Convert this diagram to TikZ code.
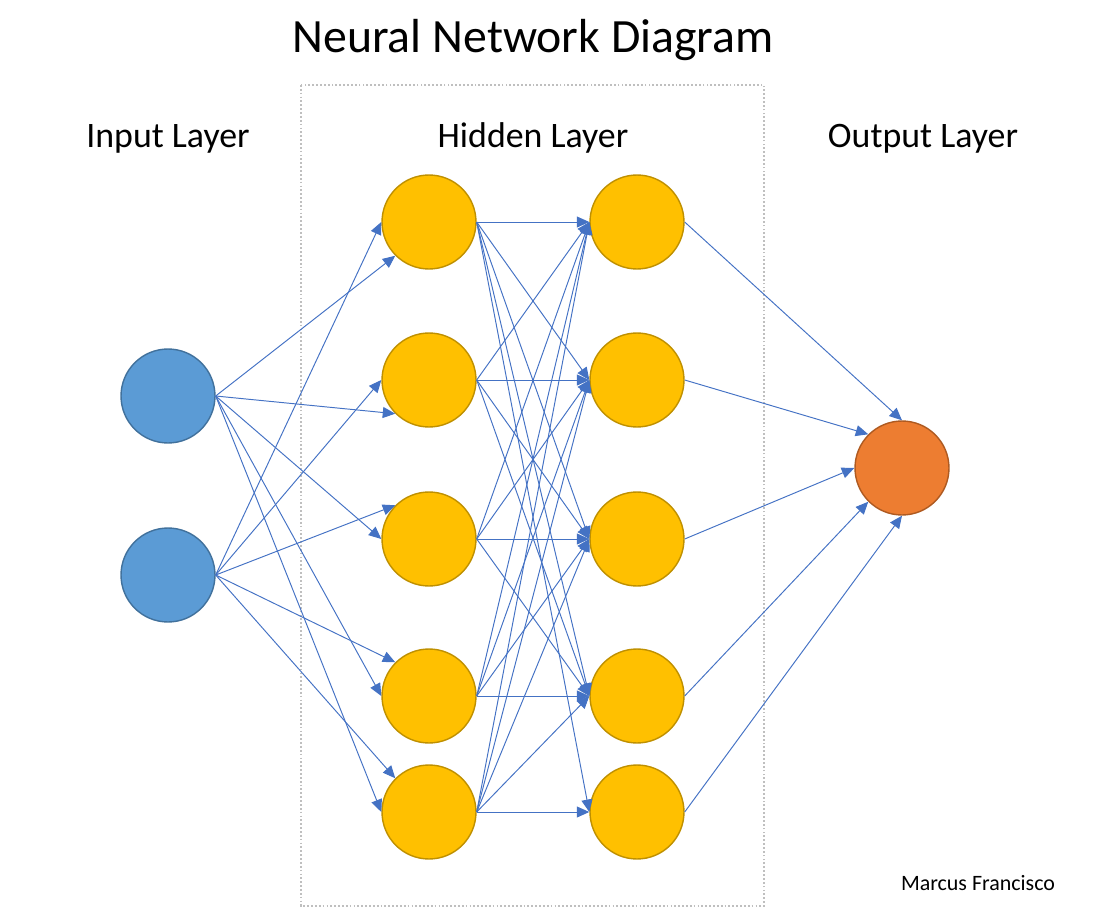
\documentclass[tikz,border=0pt]{standalone}
\usepackage{fontspec}
\setmainfont{Carlito}
\usetikzlibrary{arrows.meta}
\definecolor{inblue}{HTML}{5B9BD5}
\definecolor{inblueline}{HTML}{41719C}
\definecolor{hidyellow}{HTML}{FFC000}
\definecolor{hidyellowline}{HTML}{BF9000}
\definecolor{outorange}{HTML}{ED7D31}
\definecolor{outorangeline}{HTML}{AE5A21}
\definecolor{wireblue}{HTML}{4472C4}
\definecolor{boxgray}{HTML}{BFBFBF}
\tikzset{
	neuron/.style={circle, minimum size=1.88cm, inner sep=0pt, line width=0.8pt},
	innode/.style={neuron, fill=inblue, draw=inblueline},
	hidnode/.style={neuron, fill=hidyellow, draw=hidyellowline},
	outnode/.style={neuron, fill=outorange, draw=outorangeline},
	wire/.style={draw=wireblue, line width=0.55pt, -{Triangle[length=0.25cm,width=0.22cm]}},
	layertitle/.style={anchor=base, inner sep=0pt, font=\fontsize{20.4}{24}\selectfont},
}

\begin{document}
\begin{tikzpicture}[x=0.02cm, y=-0.02cm]
			%%%%% START %%%%%
			
			\useasboundingbox (0, 0) rectangle (1100, 923);
			
			\node[anchor=base, inner sep=0pt, font=\fontsize{27.2}{32}\selectfont] (title) at (533, 52) {Neural Network Diagram};
			\draw[boxgray, line width=1pt, dash pattern=on 1pt off 1.2pt] (301, 85) rectangle (764, 906);
			
			\node[layertitle] (intitle) at (168, 147) {Input Layer};
			\node[layertitle] (hidtitle) at (533, 147) {Hidden Layer};
			\node[layertitle] (outtitle) at (923, 147) {Output Layer};
			
			\node[innode] (in1) at (168, 396) {};
			\node[innode] (in2) at (168, 575) {};
			
			\node[hidnode] (ha1) at (429, 222) {};
			\node[hidnode] (ha2) at (429, 380) {};
			\node[hidnode] (ha3) at (429, 539) {};
			\node[hidnode] (ha4) at (429, 696) {};
			\node[hidnode] (ha5) at (429, 812) {};
			
			\node[hidnode] (hb1) at (637, 222) {};
			\node[hidnode] (hb2) at (637, 380) {};
			\node[hidnode] (hb3) at (637, 539) {};
			\node[hidnode] (hb4) at (637, 696) {};
			\node[hidnode] (hb5) at (637, 812) {};
			
			\node[outnode] (out) at (902, 468) {};
			
			\node[anchor=base, inner sep=0pt, font=\fontsize{12.5}{15}\selectfont] (author) at (978, 890) {Marcus Francisco};
			
			\draw[wire] (in1.east) -- (ha1.south west);
			\draw[wire] (in1.east) -- (ha2.south west);
			\draw[wire] (in1.east) -- (ha3.west);
			\draw[wire] (in1.east) -- (ha4.west);
			\draw[wire] (in1.east) -- (ha5.west);
			
			\draw[wire] (in2.east) -- (ha1.west);
			\draw[wire] (in2.east) -- (ha2.west);
			\draw[wire] (in2.east) -- (ha3.north west);
			\draw[wire] (in2.east) -- (ha4.north west);
			\draw[wire] (in2.east) -- (ha5.north west);
			
			\draw[wire] (ha1.east) -- (hb1.west);
			\draw[wire] (ha1.east) -- (hb2.west);
			\draw[wire] (ha1.east) -- (hb3.west);
			\draw[wire] (ha1.east) -- (hb4.west);
			\draw[wire] (ha1.east) -- (hb5.west);
			
			\draw[wire] (ha2.east) -- (hb1.west);
			\draw[wire] (ha2.east) -- (hb2.west);
			\draw[wire] (ha2.east) -- (hb3.west);
			\draw[wire] (ha2.east) -- (hb4.west);
			
			\draw[wire] (ha3.east) -- (hb1.west);
			\draw[wire] (ha3.east) -- (hb2.west);
			\draw[wire] (ha3.east) -- (hb3.west);
			\draw[wire] (ha3.east) -- (hb4.west);
			
			\draw[wire] (ha4.east) -- (hb1.west);
			\draw[wire] (ha4.east) -- (hb2.west);
			\draw[wire] (ha4.east) -- (hb3.west);
			\draw[wire] (ha4.east) -- (hb4.west);
			
			\draw[wire] (ha5.east) -- (hb1.west);
			\draw[wire] (ha5.east) -- (hb2.west);
			\draw[wire] (ha5.east) -- (hb3.west);
			\draw[wire] (ha5.east) -- (hb4.west);
			\draw[wire] (ha5.east) -- (hb5.west);
			
			\draw[wire] (hb1.east) -- (out.north);
			\draw[wire] (hb2.east) -- (out.north west);
			\draw[wire] (hb3.east) -- (out.west);
			\draw[wire] (hb4.east) -- (out.south west);
			\draw[wire] (hb5.east) -- (out.south);
			
			%%%%% END %%%%%
		\end{tikzpicture}
\end{document}
